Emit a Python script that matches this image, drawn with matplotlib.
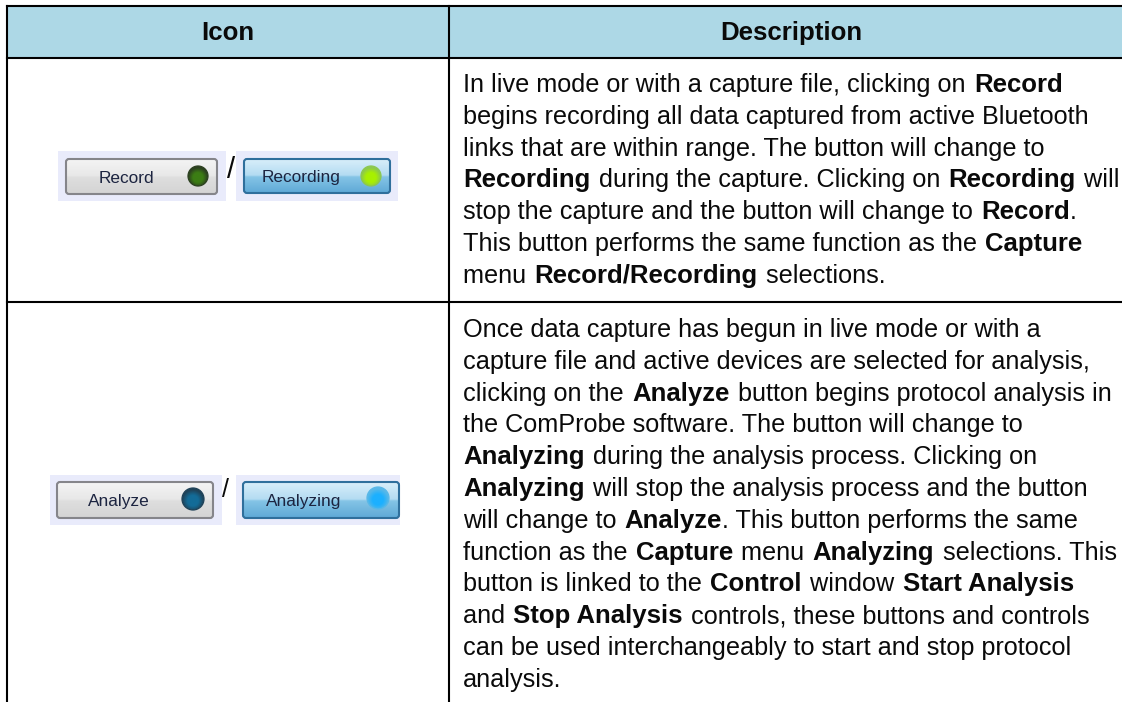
"""Icon / Description table with the Record and Analyze buttons."""
import numpy as np
import matplotlib
matplotlib.use('Agg')
import matplotlib.pyplot as plt
from matplotlib.colors import LinearSegmentedColormap
from matplotlib.patches import Circle, FancyBboxPatch, Rectangle

W, H = 1122, 702

# ── Table content ─────────────────────────────────────────────────────────
headers = ["Icon", "Description"]

# ** marks the bold runs
row1_lines = [
    "In live mode or with a capture file, clicking on **Record**",
    "begins recording all data captured from active Bluetooth",
    "links that are within range. The button will change to",
    "**Recording** during the capture. Clicking on **Recording** will",
    "stop the capture and the button will change to **Record**.",
    "This button performs the same function as the **Capture**",
    "menu **Record/Recording** selections.",
]
row2_lines = [
    "Once data capture has begun in live mode or with a",
    "capture file and active devices are selected for analysis,",
    "clicking on the **Analyze** button begins protocol analysis in",
    "the ComProbe software. The button will change to",
    "**Analyzing** during the analysis process. Clicking on",
    "**Analyzing** will stop the analysis process and the button",
    "will change to **Analyze**. This button performs the same",
    "function as the **Capture** menu **Analyzing** selections. This",
    "button is linked to the **Control** window **Start Analysis**",
    "and **Stop Analysis** controls, these buttons and controls",
    "can be used interchangeably to start and stop protocol",
    "analysis.",
]

plt.rcParams['font.family'] = ['Liberation Sans', 'DejaVu Sans']

fig = plt.figure(figsize=(W / 100, H / 100), dpi=100)
ax = fig.add_axes([0, 0, 1, 1])
ax.set_xlim(0, W)
ax.set_ylim(H, 0)
ax.axis('off')

BODY_PT = 18.15
BOLD_PT = 18.5
HEAD_PT = 18.65
LINE_H = 31.8
SPACE_GAP = 1.3   # extra px where a space meets a bold run
INK = '#0a0a0a'


def draw_rich_line(x, y, line):
    # split on ** and lay the runs end to end, measuring each one
    renderer = fig.canvas.get_renderer()
    for i, run in enumerate(line.split('**')):
        if not run:
            continue
        weight = 'bold' if i % 2 else 'normal'
        size = BOLD_PT if i % 2 else BODY_PT
        if i > 0 and run[0] == ' ':
            x += SPACE_GAP
        ax.text(x, y, run, fontsize=size, va='baseline', ha='left',
                color=INK, fontweight=weight, clip_on=True)
        # measure with a sentinel so trailing spaces count
        probe = ax.text(0, 0, run + '|', fontsize=size, fontweight=weight)
        bar = ax.text(0, 0, '|', fontsize=size, fontweight=weight)
        x += probe.get_window_extent(renderer).width - bar.get_window_extent(renderer).width
        probe.remove()
        bar.remove()
        if run[-1] == ' ':
            x += SPACE_GAP


def draw_dot(xy, r, centre, rim):
    # radial shading, lighter low in the middle
    cmap = LinearSegmentedColormap.from_list('dot', [centre, centre, rim])
    n = 48
    yy, xx = np.mgrid[-1:1:n * 1j, -1:1:n * 1j]
    dist = np.clip(np.hypot(xx, yy - 0.15), 0, 1)
    clip = Circle(xy, r, fc='none', ec=rim, lw=0.9, zorder=6)
    ax.add_patch(clip)
    im = ax.imshow(dist, extent=(xy[0] - r, xy[0] + r, xy[1] + r, xy[1] - r),
                   cmap=cmap, vmin=0, vmax=1, aspect='auto', zorder=5, interpolation='bilinear')
    im.set_clip_path(clip)


def draw_button(x0, y0, x1, y1, label, label_x, baseline, dot_xy, dot_r, stops, edge, dot_cols):
    cmap = LinearSegmentedColormap.from_list('btn', list(zip((0, 0.47, 0.53, 1), stops)))
    grad = np.linspace(0, 1, 64).reshape(-1, 1)
    box = FancyBboxPatch((x0 + 2, y0 + 2), x1 - x0 - 4, y1 - y0 - 4,
                         boxstyle='round,pad=2,rounding_size=3',
                         fc='none', ec=edge, lw=1.5, zorder=4)
    ax.add_patch(box)
    im = ax.imshow(grad, extent=(x0, x1, y1, y0), cmap=cmap, aspect='auto', zorder=3)
    im.set_clip_path(box)
    ax.text(label_x, baseline, label, fontsize=12.4, ha='center', va='baseline',
            color='#1c2440', zorder=5)
    draw_dot(dot_xy, dot_r, *dot_cols)


# ── Table frame ───────────────────────────────────────────────────────────
ax.add_patch(Rectangle((7, 6), W - 7, 51.5, fc='#ADD8E6', ec='none', zorder=1))
line_kw = dict(color='black', lw=1.5, zorder=2, solid_capstyle='projecting')
ax.plot([7, W], [6, 6], **line_kw)
ax.plot([7, W], [57.5, 57.5], **line_kw)
ax.plot([7, W], [302, 302], **line_kw)
ax.plot([7, 7], [6, H], **line_kw)
ax.plot([449, 449], [6, H], **line_kw)

ax.text(228, 40, headers[0], fontsize=HEAD_PT, fontweight='bold', ha='center', va='baseline', color=INK)
ax.text(791, 40, headers[1], fontsize=HEAD_PT, fontweight='bold', ha='center', va='baseline', color=INK)

for i, line in enumerate(row1_lines):
    draw_rich_line(463, 92 + i * LINE_H, line)
for i, line in enumerate(row2_lines):
    draw_rich_line(463, 337 + i * LINE_H, line)

# ── Buttons ───────────────────────────────────────────────────────────────
LAV = '#E9EBFB'
for x0, y0, x1, y1 in [(58, 151, 226, 201), (236, 151, 398, 201), (50, 475, 222, 525), (236, 475, 400, 525)]:
    ax.add_patch(Rectangle((x0, y0), x1 - x0, y1 - y0, fc=LAV, ec='none', zorder=1))

GREY = ('#f4f4f4', '#e8e8e8', '#dedede', '#d4d4d4')
BLUE = ('#d8eefa', '#b4dcf2', '#84c4e6', '#5fa9d6')
GREY_EDGE = '#85858a'
BLUE_EDGE = '#2f6f9c'
draw_button(66, 159, 217, 194, 'Record', 126, 183, (198, 176), 10, GREY, GREY_EDGE, ('#3c7d14', '#2c4020'))
draw_button(244, 159, 390, 193, 'Recording', 301, 182, (371, 176), 10, BLUE, BLUE_EDGE, ('#a8f000', '#8cc850'))
draw_button(57, 482, 213, 518, 'Analyze', 119, 506, (193, 499), 11, GREY, GREY_EDGE, ('#136c98', '#1f4258'))
draw_button(243, 482, 399, 518, 'Analyzing', 304, 506, (378, 498), 11, BLUE, BLUE_EDGE, ('#1cb0ff', '#58b8e8'))

ax.text(231, 170, '/', fontsize=21, ha='center', va='center', color=INK, zorder=5)
ax.text(226, 490, '/', fontsize=18, ha='center', va='center', color=INK, zorder=5)

ax.set_xlim(0, W)
ax.set_ylim(H, 0)
fig.savefig('out.png', dpi=100)
